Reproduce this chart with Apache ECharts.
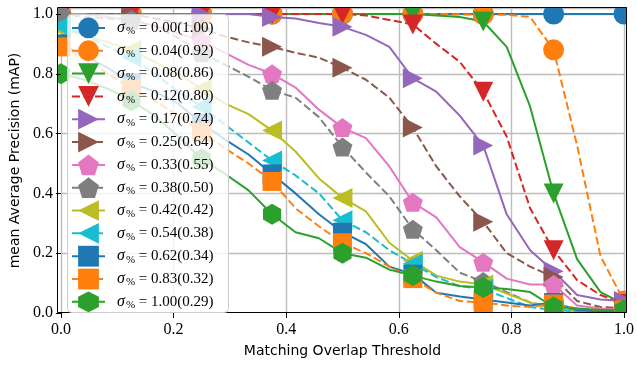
<!DOCTYPE html>
<html><head><meta charset="utf-8">
<script src="https://cdn.jsdelivr.net/npm/echarts@6/dist/echarts.min.js"></script>
<style>html,body{margin:0;padding:0;background:#fff}#c{width:637px;height:365px}</style>
</head><body><div id="c"></div>
<script>
// Matching overlap thresholds (x)
const thresholds = [0, 0.0417, 0.0833, 0.125, 0.1667, 0.2083, 0.25, 0.2917, 0.3333, 0.375, 0.4167, 0.4583, 0.5,
  0.5417, 0.5833, 0.625, 0.6667, 0.7083, 0.75, 0.7917, 0.8333, 0.875, 0.9167, 0.9583, 1.0];
const xTicks = [0, 0.2, 0.4, 0.6, 0.8, 1.0];
const yTicks = [0, 0.2, 0.4, 0.6, 0.8, 1.0];
const seriesNames = ['σ% = 0.00(1.00)', 'σ% = 0.04(0.92)', 'σ% = 0.08(0.86)', 'σ% = 0.12(0.80)', 'σ% = 0.17(0.74)',
  'σ% = 0.25(0.64)', 'σ% = 0.33(0.55)', 'σ% = 0.38(0.50)', 'σ% = 0.42(0.42)', 'σ% = 0.54(0.38)',
  'σ% = 0.62(0.34)', 'σ% = 0.83(0.32)', 'σ% = 1.00(0.29)'];
const map_s000 = [1,1,1,1,1,1,1,1,1,1,1,1,1,1,1,1,1,1,1,1,1,1,1,1,1];
const map_s004 = [1,1,1,1,1,1,1,1,1,1,1,1,1,1,1,1,1,0.998,0.998,0.997,0.99,0.88,0.56,0.19,0.04];
const map_s008 = [1,1,1,1,1,1,1,1,1,1,1,1,1,1,1,1,0.995,0.99,0.975,0.89,0.69,0.40,0.18,0.07,0.03];
const map_s012 = [1,1,1,1,1,1,1,1,1,1,1,1,1,0.995,0.98,0.965,0.90,0.84,0.74,0.59,0.35,0.21,0.11,0.06,0.03];
const map_s017 = [1,1,1,1,1,1,1,1,1,0.99,0.985,0.97,0.957,0.93,0.89,0.785,0.74,0.66,0.56,0.33,0.21,0.14,0.06,0.045,0.04];
const map_s025 = [1,1,1,1,0.985,0.97,0.95,0.925,0.905,0.89,0.87,0.854,0.82,0.78,0.72,0.62,0.49,0.39,0.305,0.20,0.155,0.12,0.04,0.02,0.015];
const map_s033 = [1,1,0.99,0.98,0.96,0.935,0.91,0.87,0.83,0.80,0.754,0.68,0.62,0.585,0.49,0.37,0.32,0.22,0.17,0.115,0.095,0.095,0.025,0.015,0.01];
const map_s038 = [1,0.99,0.985,0.98,0.96,0.92,0.87,0.83,0.79,0.745,0.72,0.655,0.555,0.47,0.39,0.28,0.21,0.135,0.105,0.07,0.035,0.02,0.01,0.005,0];
const map_s042 = [0.95,0.93,0.905,0.88,0.84,0.80,0.75,0.70,0.665,0.61,0.54,0.45,0.385,0.34,0.235,0.175,0.125,0.105,0.095,0.065,0.035,0.015,0.005,0,0];
const map_s054 = [0.96,0.93,0.89,0.855,0.80,0.74,0.69,0.63,0.57,0.51,0.46,0.40,0.31,0.27,0.21,0.165,0.12,0.09,0.08,0.05,0.02,0.01,0.005,0,0];
const map_s062 = [0.90,0.86,0.82,0.77,0.74,0.70,0.635,0.58,0.53,0.465,0.40,0.33,0.27,0.23,0.155,0.13,0.068,0.055,0.045,0.035,0.025,0.035,0.01,0.005,0.005];
const map_s083 = [0.89,0.85,0.80,0.75,0.71,0.66,0.605,0.55,0.50,0.44,0.35,0.29,0.235,0.20,0.155,0.115,0.068,0.04,0.035,0.025,0.02,0.03,0.015,0.01,0.01];
const map_s100 = [0.80,0.78,0.75,0.71,0.66,0.59,0.515,0.465,0.41,0.33,0.27,0.25,0.20,0.185,0.145,0.125,0.105,0.09,0.085,0.08,0.07,0.02,0.015,0.01,0.01];
const seriesValues = [map_s000, map_s004, map_s008, map_s012, map_s017, map_s025, map_s033, map_s038,
  map_s042, map_s054, map_s062, map_s083, map_s100];

const PENT = 'path://M0,-1 L0.951,-0.309 L0.588,0.809 L-0.588,0.809 L-0.951,-0.309 Z';
const HEX = 'path://M0,-1 L0.866,-0.5 L0.866,0.5 L0,1 L-0.866,0.5 L-0.866,-0.5 Z';
const looks = [
  {c:'#1f77b4', d:false, s:'circle', r:0, z:21},
  {c:'#ff7f0e', d:true,  s:'circle', r:0, z:21},
  {c:'#2ca02c', d:false, s:'triangle', r:180, z:20},
  {c:'#d62728', d:true,  s:'triangle', r:180, z:20},
  {c:'#9467bd', d:false, s:'triangle', r:-90, z:20},
  {c:'#8c564b', d:true,  s:'triangle', r:-90, z:20},
  {c:'#e377c2', d:false, s:PENT, r:0, z:20},
  {c:'#7f7f7f', d:true,  s:PENT, r:0, z:20},
  {c:'#bcbd22', d:false, s:'triangle', r:90, z:20},
  {c:'#17becf', d:true,  s:'triangle', r:90, z:20},
  {c:'#1f77b4', d:false, s:'rect', r:0, z:19},
  {c:'#ff7f0e', d:true,  s:'rect', r:0, z:19},
  {c:'#2ca02c', d:false, s:HEX, r:0, z:21}
];
const L = 58, R = 627, T = 8, B = 313;
const chart = echarts.init(document.getElementById('c'), null, {renderer:'canvas'});
const series = seriesNames.map((name, i) => ({
  name: name, type: 'line', xAxisIndex: 0, yAxisIndex: 0,
  data: thresholds.map((x, k) => [x, seriesValues[i][k]]),
  symbol: looks[i].s, symbolRotate: looks[i].r, symbolKeepAspect: true,
  symbolSize: (v, p) => (p.dataIndex % 3 === 0 ? looks[i].z : 0),
  showAllSymbol: true, clip: false, animation: false,
  lineStyle: {color: looks[i].c, width: 2, type: looks[i].d ? [8, 3.5] : 'solid'},
  itemStyle: {color: looks[i].c, opacity: 1},
  emphasis: {disabled: true}, z: 2
}));
const serif = 'Liberation Serif';
chart.setOption({
  animation: false,
  backgroundColor: '#fff',
  grid: {left: L, right: 637 - R, top: T, bottom: 365 - B, containLabel: false},
  xAxis: [
    {type:'value', min:0, max:1, interval:0.2, position:'top', z:0,
     axisLine:{show:false}, axisTick:{show:false}, axisLabel:{show:false},
     splitLine:{show:true, lineStyle:{color:'#bdbdbd', width:1.4}}},
    {type:'value', min:0, max:1, interval:0.2, position:'bottom', z:5,
     axisLine:{show:false}, splitLine:{show:false},
     axisTick:{show:true, length:5, inside:false, lineStyle:{color:'#000', width:1}, customValues: xTicks},
     axisLabel:{show:true, margin:9, color:'#000', fontFamily:serif, fontSize:16, customValues: xTicks,
       formatter: v => v.toFixed(1)},
     name:'Matching Overlap Threshold', nameLocation:'middle', nameGap:31,
     nameTextStyle:{fontFamily:'DejaVu Sans', fontSize:14, color:'#000'}}
  ],
  yAxis: [
    {type:'value', min:0, max:1.02, interval:0.2, position:'right', z:0,
     axisLine:{show:false}, axisTick:{show:false}, axisLabel:{show:false},
     splitLine:{show:true, lineStyle:{color:'#bdbdbd', width:1.4}}},
    {type:'value', min:0, max:1.02, interval:0.2, position:'left', z:5,
     axisLine:{show:false}, splitLine:{show:false},
     axisTick:{show:true, length:5, inside:false, lineStyle:{color:'#000', width:1}, customValues: yTicks},
     axisLabel:{show:true, margin:8, color:'#000', fontFamily:serif, fontSize:16, customValues: yTicks,
       formatter: v => v.toFixed(1)},
     name:'mean Average Precision (mAP)', nameLocation:'middle', nameGap:31, nameRotate:90,
     nameTextStyle:{fontFamily:'DejaVu Sans', fontSize:14, color:'#000'}}
  ],
  legend: {
    show: true, orient:'vertical', left: 68, top: 15, z: 40,
    itemWidth: 33, itemHeight: 26, itemGap: 2.03,
    padding: [2.5, 6, 0.5, 3],
    selectedMode: false,
    data: seriesNames,
    formatter: name => '{s|σ}{p|%}{t| = ' + name.split('= ')[1] + '}',
    textStyle: {color:'#000', fontFamily: serif, fontSize: 15,
      rich: {
        s: {fontFamily: serif, fontStyle:'italic', fontSize:16, color:'#000', padding:[0,0,0,7]},
        p: {fontFamily: serif, fontSize:11, color:'#000', padding:[7,0,0,1]},
        t: {fontFamily: serif, fontSize:15, color:'#000'}
      }}
  },
  graphic: [
    {type:'rect', shape:{x:0, y:0, width:L - 0.5, height:365}, style:{fill:'#fff'}, z:3, silent:true},
    {type:'rect', shape:{x:R, y:0, width:637 - R, height:365}, style:{fill:'#fff'}, z:3, silent:true},
    {type:'rect', shape:{x:0, y:0, width:637, height:T - 0.5}, style:{fill:'#fff'}, z:3, silent:true},
    {type:'rect', shape:{x:0, y:B, width:637, height:365 - B}, style:{fill:'#fff'}, z:3, silent:true},
    {type:'rect', z:30, shape:{x:67.5, y:14.5, width:161, height:298, r:4},
     style:{fill:'rgba(255,255,255,0.8)', stroke:'#cccccc', lineWidth:1}, silent:true},
    {type:'rect', shape:{x:L - 0.5, y:T - 0.5, width:R - L, height:B - T}, style:{fill:null, stroke:'#000', lineWidth:1}, z:6, silent:true}
  ],
  series: series
});
</script></body></html>
